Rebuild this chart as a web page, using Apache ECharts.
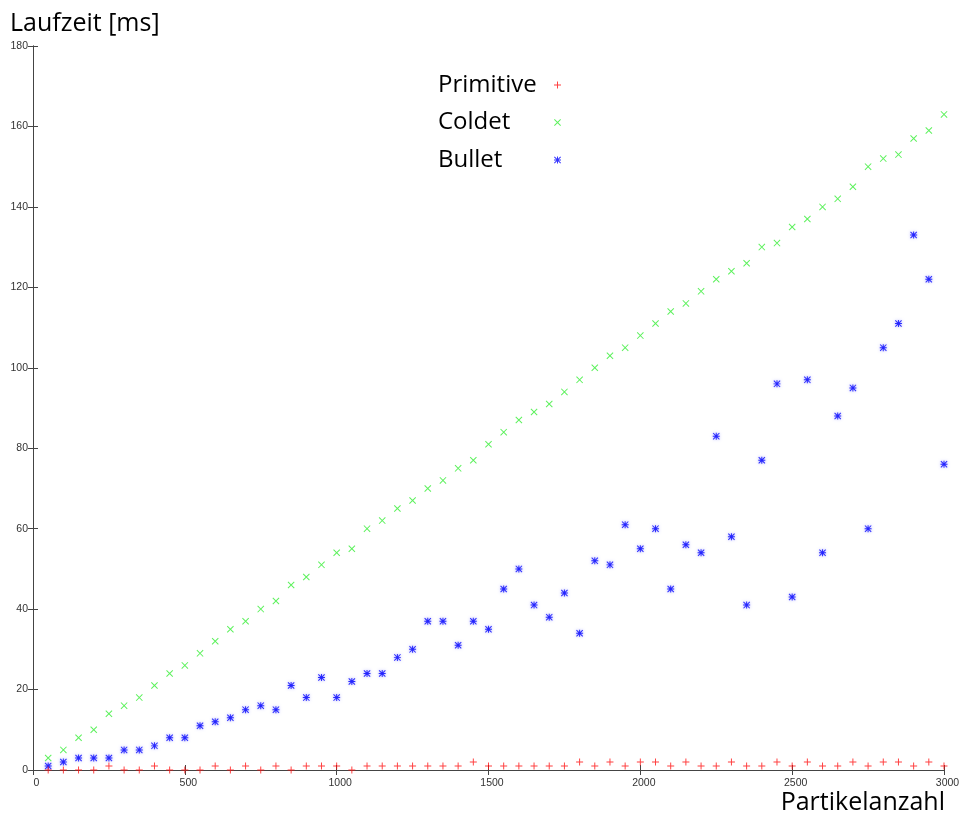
<!DOCTYPE html>
<html>
<head>
<meta charset="utf-8">
<title>Laufzeit</title>
<script src="https://cdn.jsdelivr.net/npm/echarts@6/dist/echarts.min.js"></script>
<style>
  html, body { margin: 0; padding: 0; background: #fff; }
  #chart { width: 960px; height: 818px; }
</style>
</head>
<body>
<div id="chart"></div>
<script>
// Particle counts (x values)
const particles = [50, 100, 150, 200, 250, 300, 350, 400, 450, 500,
  550, 600, 650, 700, 750, 800, 850, 900, 950, 1000,
  1050, 1100, 1150, 1200, 1250, 1300, 1350, 1400, 1450, 1500,
  1550, 1600, 1650, 1700, 1750, 1800, 1850, 1900, 1950, 2000,
  2050, 2100, 2150, 2200, 2250, 2300, 2350, 2400, 2450, 2500,
  2550, 2600, 2650, 2700, 2750, 2800, 2850, 2900, 2950, 3000];

// Runtime in ms per implementation
const primitive = [0, 0, 0, 0, 1, 0, 0, 1, 0, 0,
  0, 1, 0, 1, 0, 1, 0, 1, 1, 1,
  0, 1, 1, 1, 1, 1, 1, 1, 2, 1,
  1, 1, 1, 1, 1, 2, 1, 2, 1, 2,
  2, 1, 2, 1, 1, 2, 1, 1, 2, 1,
  2, 1, 1, 2, 1, 2, 2, 1, 2, 1];
const coldet = [3, 5, 8, 10, 14, 16, 18, 21, 24, 26,
  29, 32, 35, 37, 40, 42, 46, 48, 51, 54,
  55, 60, 62, 65, 67, 70, 72, 75, 77, 81,
  84, 87, 89, 91, 94, 97, 100, 103, 105, 108,
  111, 114, 116, 119, 122, 124, 126, 130, 131, 135,
  137, 140, 142, 145, 150, 152, 153, 157, 159, 163];
const bullet = [1, 2, 3, 3, 3, 5, 5, 6, 8, 8,
  11, 12, 13, 15, 16, 15, 21, 18, 23, 18,
  22, 24, 24, 28, 30, 37, 37, 31, 37, 35,
  45, 50, 41, 38, 44, 34, 52, 51, 61, 55,
  60, 45, 56, 54, 83, 58, 41, 77, 96, 43,
  97, 54, 88, 95, 60, 105, 111, 133, 122, 76];

const seriesNames = ['Primitive', 'Coldet', 'Bullet'];
const yTicks = { min: 0, max: 180, step: 20 };
const xTicks = { min: 0, max: 3000, step: 500 };

// Thin point glyphs: plus, cross and asterisk
const PLUS = 'path://M0,4.3H10V5.7H0Z M4.3,0H5.7V10H4.3Z';
const CROSS = 'path://M1,0L10,9L9,10L0,1Z M9,0L10,1L1,10L0,9Z';
const STAR = 'path://M0,4.3H10V5.7H0Z M4.3,0H5.7V10H4.3Z M1,0L10,9L9,10L0,1Z M9,0L10,1L1,10L0,9Z';

const pairs = (ys) => particles.map((x, i) => [x, ys[i]]);

const axisLineStyle = { color: '#444', width: 1 };
const labelFont = { fontFamily: 'Liberation Sans', fontSize: 10.5, color: '#333' };
const bigFont = 'Open Sans';

const chart = echarts.init(document.getElementById('chart'), null, { renderer: 'canvas' });

chart.setOption({
  animation: false,
  backgroundColor: '#fff',
  grid: { left: 33, right: 16, top: 46, bottom: 48, containLabel: false, outerBoundsMode: 'none' },
  xAxis: [
    {
      type: 'value', min: xTicks.min, max: xTicks.max, interval: xTicks.step,
      position: 'bottom',
      axisLine: { show: true, lineStyle: axisLineStyle },
      axisTick: { show: true, inside: true, length: 5, lineStyle: axisLineStyle },
      axisLabel: Object.assign({
        margin: 8,
        padding: [0, 0, 0, 7],
        hideOverlap: false,
        formatter: (v) => String(v)
      }, labelFont),
      splitLine: { show: false }
    },
    {
      type: 'value', min: xTicks.min, max: xTicks.max, interval: xTicks.step,
      position: 'top',
      axisLine: { show: true, lineStyle: axisLineStyle },
      axisTick: { show: true, inside: true, length: 5, lineStyle: axisLineStyle },
      axisLabel: { show: false },
      splitLine: { show: false }
    }
  ],
  yAxis: [
    {
      type: 'value', min: yTicks.min, max: yTicks.max, interval: yTicks.step,
      position: 'left',
      axisLine: { show: true, lineStyle: axisLineStyle },
      axisTick: { show: true, inside: true, length: 5, lineStyle: axisLineStyle },
      axisLabel: Object.assign({ margin: 5, formatter: (v) => String(v) }, labelFont),
      splitLine: { show: false }
    },
    {
      type: 'value', min: yTicks.min, max: yTicks.max, interval: yTicks.step,
      position: 'right',
      axisLine: { show: true, lineStyle: axisLineStyle },
      axisTick: { show: true, inside: true, length: 5, lineStyle: axisLineStyle },
      axisLabel: { show: false },
      splitLine: { show: false }
    }
  ],
  legend: {
    orient: 'vertical',
    left: 433,
    top: 65,
    align: 'right',
    itemGap: 7.5,
    itemWidth: 7,
    itemHeight: 7,
    formatter: (name) => '{t|' + name + '}',
    textStyle: {
      fontFamily: bigFont, fontSize: 24, color: '#000', lineHeight: 30,
      rich: {
        t: { fontFamily: bigFont, fontSize: 24, color: '#000', lineHeight: 30, width: 111, align: 'left' }
      }
    },
    data: seriesNames
  },
  graphic: [
    {
      type: 'text', left: 10, top: 11,
      style: { text: 'Laufzeit [ms]', fontFamily: bigFont, fontSize: 25, fill: '#000' }
    },
    {
      type: 'text', right: 15, top: 790,
      style: { text: 'Partikelanzahl', fontFamily: bigFont, fontSize: 25, fill: '#000' }
    }
  ],
  series: [
    {
      name: seriesNames[0], type: 'scatter', symbol: PLUS, symbolSize: 7,
      itemStyle: { color: '#ff1010' },
      data: pairs(primitive), z: 3
    },
    {
      name: seriesNames[1], type: 'scatter', symbol: CROSS, symbolSize: 7,
      itemStyle: { color: '#33ee33' },
      data: pairs(coldet), z: 2
    },
    {
      name: seriesNames[2], type: 'scatter', symbol: STAR, symbolSize: 7,
      itemStyle: { color: '#0000ff', shadowBlur: 3, shadowColor: 'rgba(90,90,255,0.7)' },
      data: pairs(bullet), z: 2
    }
  ]
});
</script>
</body>
</html>
